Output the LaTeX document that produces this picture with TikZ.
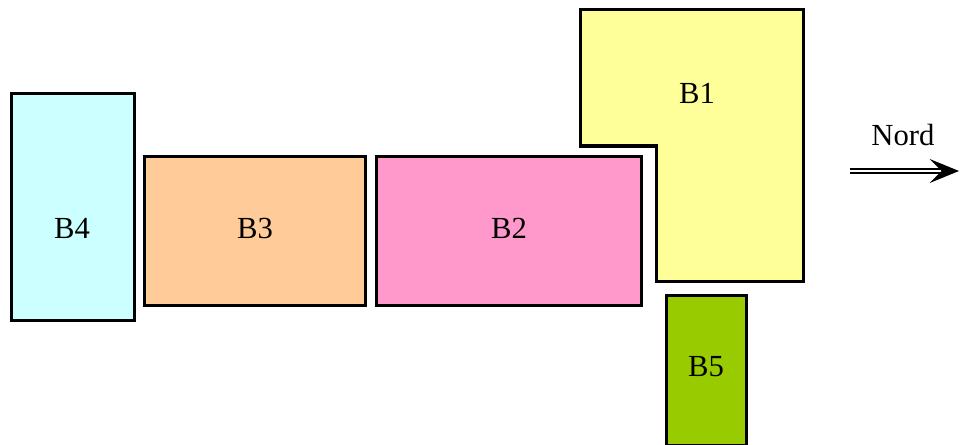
\documentclass[tikz,border=0pt]{standalone}
\usepackage{fontspec}
\setmainfont{Liberation Serif}
\usetikzlibrary{arrows.meta}
\definecolor{bcyan}{HTML}{CCFFFF}
\definecolor{borange}{HTML}{FFCC99}
\definecolor{bpink}{HTML}{FF99CC}
\definecolor{byellow}{HTML}{FFFF99}
\definecolor{bgreen}{HTML}{99CC00}
\begin{document}
\begin{tikzpicture}[x=0.75pt, y=-0.75pt, block/.style={draw, line width=2.4pt, line join=miter}, lab/.style={font=\fontsize{23}{27}\selectfont}]
\useasboundingbox (0,0) rectangle (960,445);
\draw[block, fill=bcyan] (11.5,93.5) rectangle (134.5,320.5);
\draw[block, fill=borange] (144.5,156.5) rectangle (365.5,305.5);
\draw[block, fill=bpink] (376.5,156.5) rectangle (641.5,305.5);
\draw[block, fill=byellow] (580.5,9.5) -- (803.5,9.5) -- (803.5,281.5) -- (656.5,281.5) -- (656.5,146) -- (580.5,146) -- cycle;
\draw[block, fill=bgreen] (666.5,295.5) rectangle (746.5,446);
\node[lab] (B4) at (72,228) {B4};
\node[lab] (B3) at (255,228) {B3};
\node[lab] (B2) at (509,228) {B2};
\node[lab] (B1) at (697,93) {B1};
\node[lab] (B5) at (706,367) {B5};
\node[lab] (N) at (903,135) {Nord};
\coordinate (S) at (850,171);
\coordinate (E) at (959,171);
\draw[double, double distance=1.9pt, line width=1.1pt, -{Stealth[length=22pt, width=18pt, inset=9pt]}] (S)--(E);
\end{tikzpicture}
\end{document}
